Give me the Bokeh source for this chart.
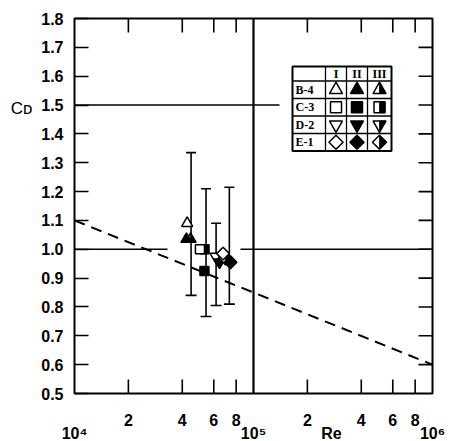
import math
from bokeh.plotting import figure
from bokeh.models import (LogAxis, LinearAxis, FixedTicker, CustomJSTickFormatter,
                          PrintfTickFormatter)
from bokeh.embed import file_html
from bokeh.resources import INLINE
from bokeh.core.properties import value

# ---------------- data ----------------
specimens = ["B-4", "C-3", "D-2", "E-1"]
conditions = ["I", "II", "III"]
shapes = ["triangle", "square", "inverted_triangle", "diamond"]

re_I = [4.26e4, 5.02e4, 6.14e4, 6.76e4]
cd_I = [1.09, 1.00, 0.975, 0.985]
re_II = [4.22e4, 5.32e4, 6.46e4, 7.44e4]
cd_II = [1.035, 0.925, 0.955, 0.955]
re_III = [4.45e4, 5.32e4, 6.30e4, 6.98e4]
cd_III = [1.035, 1.00, 0.965, 0.968]

bar_re = [4.48e4, 5.43e4, 6.18e4, 7.33e4]
bar_hi = [1.335, 1.21, 1.09, 1.215]
bar_lo = [0.84, 0.767, 0.805, 0.81]

trend_re = [1e4, 1e6]
trend_cd = [1.10, 0.60]

y_ticks = [0.5, 0.6, 0.7, 0.8, 0.9, 1.0, 1.1, 1.2, 1.3, 1.4, 1.5, 1.6, 1.7, 1.8]
x_ticks = [2e4, 4e4, 6e4, 8e4, 2e5, 4e5, 6e5, 8e5]
decade_vals = [1e4, 1e5, 1e6]
decade_text = ["10\u2074", "10\u2075", "10\u2076"]
x_title = "Re"
y_title = "C\u1d05"

# ---------------- layout constants ----------------
FW, FH = 358, 375
ML, MR, MT, MB = 74, 21, 18, 48
FL, FT = ML, MT
PPD = FW / 2.0                   # px per decade
PPU = FH / 1.3                   # px per Cd unit
TICK = 14


def re_px(px):
    return 10 ** (4 + (px - FL) / PPD)


def cd_px(py):
    return 1.8 - (py - FT) / PPU


FONT = "Liberation Sans"

p = figure(frame_width=FW, frame_height=FH, x_axis_type="log",
           x_range=(1e4, 1e6), y_range=(0.5, 1.8),
           x_axis_location=None, y_axis_location=None,
           output_backend="svg", toolbar_location=None,
           min_border_left=ML, min_border_right=MR,
           min_border_top=MT, min_border_bottom=MB)
p.grid.visible = False
p.outline_line_color = "black"
p.outline_line_width = 2
p.background_fill_color = "white"
p.border_fill_color = "white"


def label_style(ax):
    ax.minor_tick_line_color = None
    ax.axis_line_color = None
    ax.major_label_text_font = FONT
    ax.major_label_text_font_size = "16px"
    ax.major_label_text_font_style = "bold"
    ax.major_label_text_color = "black"


# left axis: ticks inside + labels
left = LinearAxis(ticker=FixedTicker(ticks=y_ticks),
                  formatter=PrintfTickFormatter(format="%.1f"))
label_style(left)
left.major_tick_in = TICK
left.major_tick_out = 0
left.major_tick_line_width = 1.6
left.major_label_standoff = 11
p.add_layout(left, "left")

# second left axis carrying the Cd title
cd_title_pos = cd_px(108)
left2 = LinearAxis(ticker=FixedTicker(ticks=[cd_title_pos]),
                   formatter=CustomJSTickFormatter(args=dict(t=y_title), code="return t;"))
label_style(left2)
left2.major_label_text_font_style = "normal"
left2.major_label_text_font_size = "17px"
left2.major_tick_line_color = None
left2.major_label_standoff = 0
p.add_layout(left2, "left")

# bottom axis: two rows of labels (digits, then decades and Re)
re_title_pos = re_px(331)
bottom_ticks = sorted(x_ticks + decade_vals + [re_title_pos])
bottom_fmt = CustomJSTickFormatter(args=dict(dec=decade_vals, dtxt=decade_text,
                                             rpos=re_title_pos, rtxt=x_title),
    code="""
    for (let k = 0; k < dec.length; k++) {
        if (Math.abs(tick / dec[k] - 1) < 1e-6) return "\\n" + dtxt[k];
    }
    if (Math.abs(tick / rpos - 1) < 1e-6) return "\\n" + rtxt;
    return String(Math.round(tick / Math.pow(10, Math.floor(Math.log10(tick) + 1e-9))));
    """)
bottom = LogAxis(ticker=FixedTicker(ticks=bottom_ticks), formatter=bottom_fmt)
label_style(bottom)
bottom.major_tick_line_color = None
bottom.major_label_standoff = 12
bottom.major_label_text_line_height = 0.82
p.add_layout(bottom, "below")

# inside tick marks on bottom, top and right edges
y_in = [0.5 + TICK / PPU] * len(x_ticks)
p.segment(x_ticks, [0.5] * len(x_ticks), x_ticks, y_in, line_color="black", line_width=1.6)
p.segment(x_ticks, [1.8] * len(x_ticks), x_ticks, [1.8 - TICK / PPU] * len(x_ticks),
          line_color="black", line_width=1.6)
ry = y_ticks[1:-1]
p.segment([1e6] * len(ry), ry, [1e6 * 10 ** (-TICK / PPD)] * len(ry), ry,
          line_color="black", line_width=1.6)

# ---------------- reference lines ----------------
p.line([1e4, re_px(167)], [1.0, 1.0], line_color="black", line_width=1.6)
p.line([re_px(240), 1e6], [1.0, 1.0], line_color="black", line_width=1.6)
p.line([1e4, re_px(279)], [1.5, 1.5], line_color="black", line_width=1.6)
p.line([1e5, 1e5], [0.5, 1.8], line_color="black", line_width=2.2)

p.line(trend_re, trend_cd, line_color="black", line_width=2, line_dash="11 7")

# ---------------- error bars ----------------
p.segment(bar_re, bar_lo, bar_re, bar_hi, line_color="black", line_width=1.6)
p.scatter(bar_re, bar_hi, marker="dash", size=10, line_color="black", line_width=1.6)
p.scatter(bar_re, bar_lo, marker="dash", size=11, line_color="black", line_width=1.6)


# ---------------- markers ----------------
def half_pts(shape, s):
    r = s / 2.0
    if shape == "triangle":
        h = r * math.sqrt(3)
        a = h / 3
        return [(0, -a), (r, -a), (0, h - a)]
    if shape == "inverted_triangle":
        h = r * math.sqrt(3)
        a = h / 3
        return [(0, a), (r, a), (0, -(h - a))]
    if shape == "square":
        return [(0, -r), (r, -r), (r, r), (0, r)]
    d = s / math.sqrt(2)
    return [(0, -d), (d, 0), (0, d)]


def draw_marker(x, y, shape, s, kind):
    mk = "square" if shape == "diamond" else shape
    ang = math.pi / 4 if shape == "diamond" else 0
    if kind == "II":
        p.scatter([x], [y], marker=mk, size=s, angle=ang, fill_color="black",
                  line_color="black", line_width=1.5)
        return
    p.scatter([x], [y], marker=mk, size=s, angle=ang, fill_color="white",
              line_color="black", line_width=1.5)
    if kind == "III":
        pts = half_pts(shape, s)
        xs = [x * 10 ** (dx / PPD) for dx, dy in pts]
        ys = [y + dy / PPU for dx, dy in pts]
        p.patch(xs, ys, fill_color="black", line_color="black", line_width=0.8)


plot_size = {"triangle": 11, "square": 9, "inverted_triangle": 11, "diamond": 9}
for i, sh in enumerate(shapes):
    draw_marker(re_III[i], cd_III[i], sh, plot_size[sh], "III")
    draw_marker(re_I[i], cd_I[i], sh, plot_size[sh], "I")
    draw_marker(re_II[i], cd_II[i], sh, plot_size[sh], "II")

# ---------------- legend table ----------------
tab_x = [re_px(292), re_px(325), re_px(346), re_px(367), re_px(391)]
tab_y = [cd_px(66), cd_px(80.5), cd_px(98), cd_px(115.5), cd_px(133), cd_px(150.5)]
p.quad(left=tab_x[0], right=tab_x[-1], top=tab_y[0], bottom=tab_y[-1],
       fill_color="white", line_color="black", line_width=2)
for xv in tab_x[1:-1]:
    p.line([xv, xv], [tab_y[0], tab_y[-1]], line_color="black", line_width=1.3)
for yv in tab_y[1:-1]:
    p.line([tab_x[0], tab_x[-1]], [yv, yv], line_color="black", line_width=1.3)

col_c = [math.sqrt(tab_x[j] * tab_x[j + 1]) for j in range(4)]
row_c = [(tab_y[k] + tab_y[k + 1]) / 2 for k in range(5)]

p.text(col_c[1:], [row_c[0]] * 3, text=conditions, text_align="center",
       text_baseline="middle", text_font=value("Liberation Serif"),
       text_font_size="12px", text_font_style="bold", text_color="black")
p.text([tab_x[0] * 10 ** (3 / PPD)] * 4, row_c[1:], text=specimens,
       text_align="left", text_baseline="middle",
       text_font=value("Liberation Sans Narrow"), text_font_size="12px",
       text_font_style="bold", text_color="black")

leg_size = {"triangle": 13, "square": 11, "inverted_triangle": 13, "diamond": 10}
for i, sh in enumerate(shapes):
    for j, kind in enumerate(conditions):
        draw_marker(col_c[j + 1], row_c[i + 1], sh, leg_size[sh], kind)

open("out.html", "w").write(file_html(p, INLINE))
